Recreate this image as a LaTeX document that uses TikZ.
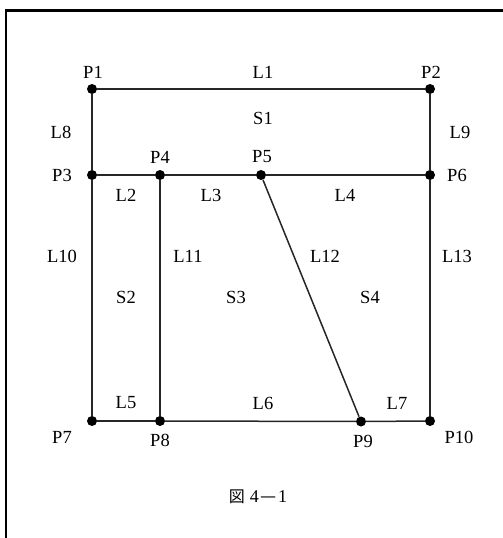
\documentclass[tikz,border=0pt]{standalone}
\usepackage{fontspec}
\setmainfont{Liberation Serif}
\newfontfamily\cjkfont{Noto Sans CJK JP}
\begin{document}
\begin{tikzpicture}[x=1pt,y=-1pt,
  pt/.style={circle,fill=black,inner sep=0pt,minimum size=10pt},
  lbl/.style={inner sep=0pt,font=\fontsize{18.5}{20}\selectfont},
  edge/.style={line width=1.5pt,black!85},
  frame/.style={line width=2.6pt}]
\useasboundingbox (0,0) rectangle (503,538);
% frame
\coordinate (fa) at (6,538);
\coordinate (fb) at (6,10.5);
\coordinate (fc) at (503,10.5);
\draw[frame] (fa) -- (fb) -- (fc);
% points
\node[pt] (p1) at (92,89) {};
\node[pt] (p2) at (430,89) {};
\node[pt] (p3) at (92,175) {};
\node[pt] (p4) at (160,175) {};
\node[pt] (p5) at (261,175) {};
\node[pt] (p6) at (430,175) {};
\node[pt] (p7) at (92,421) {};
\node[pt] (p8) at (160,421) {};
\node[pt] (p9) at (361,421.5) {};
\node[pt] (p10) at (430,421) {};
% lines
\draw[edge] (p1) -- (p2);
\draw[edge] (p3) -- (p4);
\draw[edge] (p4) -- (p5);
\draw[edge] (p5) -- (p6);
\draw[edge] (p7) -- (p8);
\draw[edge] (p8) -- (p9);
\draw[edge] (p9) -- (p10);
\draw[edge] (p1) -- (p3);
\draw[edge] (p2) -- (p6);
\draw[edge] (p3) -- (p7);
\draw[edge] (p4) -- (p8);
\draw[edge] (p5) -- (p9);
\draw[edge] (p6) -- (p10);
% point labels
\node[lbl] (tp1) at (93,72) {P1};
\node[lbl] (tp2) at (431,72) {P2};
\node[lbl] (tp3) at (62,175) {P3};
\node[lbl] (tp4) at (160,157) {P4};
\node[lbl] (tp5) at (262,157) {P5};
\node[lbl] (tp6) at (457,175) {P6};
\node[lbl] (tp7) at (62,437) {P7};
\node[lbl] (tp8) at (160,440) {P8};
\node[lbl] (tp9) at (363,441) {P9};
\node[lbl] (tp10) at (459,437) {P10};
% line labels
\node[lbl] (tl1) at (263,72) {L1};
\node[lbl] (tl2) at (126,195) {L2};
\node[lbl] (tl3) at (211,195) {L3};
\node[lbl] (tl4) at (345,195) {L4};
\node[lbl] (tl5) at (126,403) {L5};
\node[lbl] (tl6) at (263,403) {L6};
\node[lbl] (tl7) at (397,403) {L7};
\node[lbl] (tl8) at (61,132) {L8};
\node[lbl] (tl9) at (460,132) {L9};
\node[lbl] (tl10) at (62,256) {L10};
\node[lbl] (tl11) at (188,256) {L11};
\node[lbl] (tl12) at (325,256) {L12};
\node[lbl] (tl13) at (457,256) {L13};
% surface labels
\node[lbl] (ts1) at (263,118) {S1};
\node[lbl] (ts2) at (126,297) {S2};
\node[lbl] (ts3) at (236,297) {S3};
\node[lbl] (ts4) at (370,297) {S4};
% caption
\node[lbl,font=\fontsize{18}{20}\selectfont] (cap) at (258,497) {{\cjkfont\fontsize{16}{18}\selectfont 図}\hspace{5pt}4\hspace{1.5pt}{\cjkfont —}\hspace{1.5pt}1};
\end{tikzpicture}
\end{document}
